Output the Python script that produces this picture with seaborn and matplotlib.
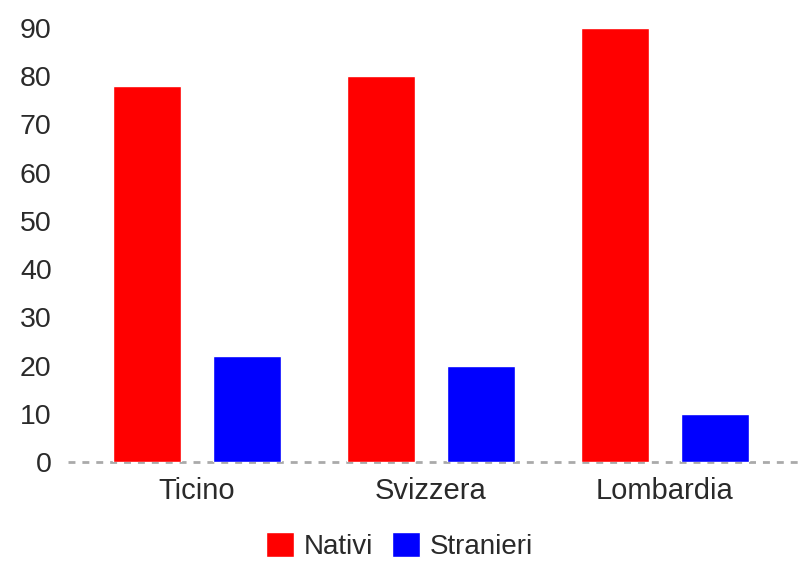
import matplotlib
matplotlib.use("Agg")
import matplotlib.pyplot as plt
import seaborn as sns
import pandas as pd

regions = ["Ticino", "Svizzera", "Lombardia"]
nativi = [78, 80, 90]
stranieri = [22, 20, 10]
series_names = ["Nativi", "Stranieri"]
yticks = [0, 10, 20, 30, 40, 50, 60, 70, 80, 90]

df = pd.DataFrame({
    "regione": regions * 2,
    "gruppo": [series_names[0]] * 3 + [series_names[1]] * 3,
    "valore": nativi + stranieri,
})

sns.set_style("white")
plt.rcParams["font.family"] = ["Liberation Sans", "DejaVu Sans"]

W, H = 799, 562
fig = plt.figure(figsize=(W / 100, H / 100), dpi=100)
ax = fig.add_axes([60 / W, 1 - 462 / H, (W - 60) / W, (462 - 20) / H])

sns.barplot(data=df, x="regione", y="valore", hue="gruppo",
            palette=["#ff0000", "#0000ff"], width=0.855, gap=0.32,
            saturation=1, ax=ax, legend=True)

ax.set_xlim(-0.585, 2.573)
ax.set_ylim(0, 90 * (462 - 20) / (462 - 28))
ax.set_yticks(yticks)
ax.set_xlabel("")
ax.set_ylabel("")
for s in ax.spines.values():
    s.set_visible(False)
ax.tick_params(axis="y", length=0, pad=6, labelsize=20.5, labelcolor="#2a2a2a")
ax.tick_params(axis="x", length=0, pad=11, labelsize=21, labelcolor="#2a2a2a")
ax.axhline(0, xmin=8 / (W - 60), xmax=1, color="#aaaaaa", lw=2,
           ls=(0, (2.5, 2.5)), clip_on=False, zorder=0)

handles, labels = ax.get_legend_handles_labels()
ax.legend(handles, labels, loc="center", bbox_to_anchor=(0.5, 1 - 546 / H),
          bbox_transform=fig.transFigure, ncol=2, frameon=False,
          fontsize=20, handlelength=1.0, handleheight=1.0,
          handletextpad=0.35, columnspacing=0.7, labelcolor="#2a2a2a",
          borderaxespad=0, borderpad=0)

fig.savefig("out.png", dpi=100)
